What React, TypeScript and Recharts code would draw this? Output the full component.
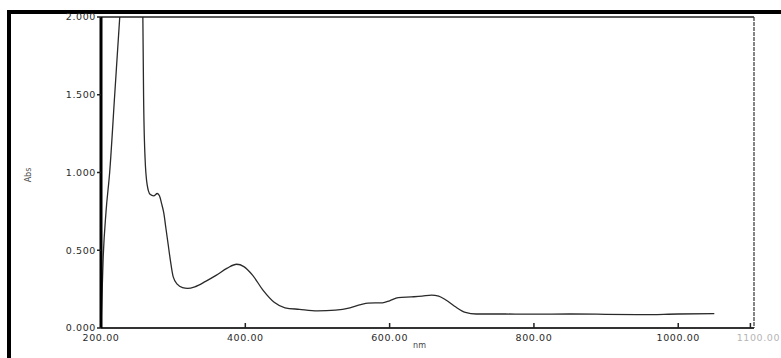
import { LineChart, Line, XAxis, YAxis } from 'recharts';

// spectrum (nm -> Abs); values above 2 are clipped by the plot
const wavelengths = [
  200, 203, 207, 212, 219, 226, 235, 245, 255, 257, 258, 259, 261, 264, 268, 273,
  278, 281, 284, 287, 290, 293, 296, 300, 306, 313, 320, 330, 345, 360, 375, 388,
  398, 410, 425, 440, 455, 475, 500, 525, 545, 560, 570, 590, 600, 612, 630, 645,
  658, 668, 678, 690, 705, 720, 760, 800, 850, 900, 950, 1000, 1050,
];
const absorbance = [
  0.0, 0.45, 0.75, 1.0, 1.5, 2.0, 2.6, 2.6, 2.6, 2.3, 2.0, 1.5, 1.1, 0.92, 0.86, 0.85,
  0.865, 0.85, 0.8, 0.74, 0.64, 0.54, 0.44, 0.33, 0.28, 0.26, 0.255, 0.265, 0.3, 0.34, 0.385, 0.41,
  0.395, 0.34, 0.24, 0.165, 0.13, 0.12, 0.11, 0.115, 0.13, 0.15, 0.16, 0.162, 0.175, 0.195, 0.2, 0.205,
  0.212, 0.205, 0.18, 0.14, 0.1, 0.09, 0.09, 0.089, 0.09, 0.088, 0.086, 0.09, 0.092,
];
const xTicks = [200, 400, 600, 800, 1000, 1100];
const yTicks = [0, 0.5, 1, 1.5, 2];

const data = wavelengths.map((nm, i) => ({ nm, abs: absorbance[i] }));

const FONT = '"DejaVu Sans", sans-serif';

const XTick = (props: any) => {
  const { x, y, payload } = props;
  const faded = payload.value === 1100;
  return (
    <text
      x={x + (faded ? 8 : 0)}
      y={y}
      dy="0.35em"
      textAnchor="middle"
      fontSize={9.5}
      letterSpacing={0.6}
      fontFamily={FONT}
      fill={faded ? '#b5b5b5' : '#2a2a2a'}
    >
      {payload.value.toFixed(2)}
    </text>
  );
};

export default function App() {
  return (
    <div
      style={{
        position: 'fixed',
        left: 0,
        top: 0,
        width: 781,
        height: 358,
        overflow: 'hidden',
        background: '#fff',
      }}
    >
      <div
        style={{
          position: 'absolute',
          left: 7,
          top: 10,
          width: 820,
          height: 400,
          borderTop: '4px solid #000',
          borderLeft: '4px solid #000',
          boxSizing: 'border-box',
        }}
      />
      <div style={{ position: 'absolute', left: 0, top: 0 }}>
        <LineChart
          width={781}
          height={358}
          data={data}
          margin={{ top: 16, right: 0, bottom: 0, left: 0 }}
        >
          <XAxis
            dataKey="nm"
            type="number"
            domain={[200, 1105]}
            allowDataOverflow
            ticks={xTicks}
            height={30}
            tickSize={-5}
            tickMargin={15}
            tick={<XTick />}
            axisLine={{ stroke: '#333', strokeWidth: 2 }}
            tickLine={{ stroke: '#222', strokeWidth: 1.5 }}
            label={{
              value: 'nm',
              position: 'insideBottom',
              offset: 10,
              fontSize: 8,
              fontFamily: FONT,
              fill: '#444',
              dx: -8,
            }}
          />
          <XAxis
            xAxisId="top"
            orientation="top"
            type="number"
            domain={[200, 1105]}
            ticks={[1000]}
            height={1}
            tickSize={-5}
            tick={false}
            axisLine={{ stroke: '#222', strokeWidth: 1.5 }}
            tickLine={{ stroke: '#222', strokeWidth: 1.5 }}
          />
          <YAxis
            type="number"
            domain={[0, 2]}
            allowDataOverflow
            ticks={yTicks}
            width={101}
            tickSize={4}
            tickMargin={1}
            tickFormatter={(v: number) => v.toFixed(3)}
            tick={{ fontSize: 9.5, fontFamily: FONT, fill: '#2a2a2a', letterSpacing: 0.6 }}
            axisLine={{ stroke: '#000', strokeWidth: 3 }}
            tickLine={{ stroke: '#222', strokeWidth: 1.5 }}
            label={{
              content: () => (
                <text
                  transform="translate(31,175) rotate(-90)"
                  textAnchor="middle"
                  fontSize={8}
                  fontFamily={FONT}
                  fill="#555"
                >
                  Abs
                </text>
              ),
            }}
          />
          <YAxis
            yAxisId="right"
            orientation="right"
            type="number"
            domain={[0, 2]}
            ticks={[0.5, 1, 1.5]}
            width={27}
            tickSize={-7}
            tick={false}
            axisLine={{ stroke: '#333', strokeWidth: 1.2, strokeDasharray: '4 1' }}
            tickLine={{ stroke: '#333', strokeWidth: 1.2 }}
          />
          <Line
            type="monotone"
            dataKey="abs"
            stroke="#2a2a2a"
            strokeWidth={1.3}
            dot={false}
            isAnimationActive={false}
          />
        </LineChart>
      </div>
    </div>
  );
}
